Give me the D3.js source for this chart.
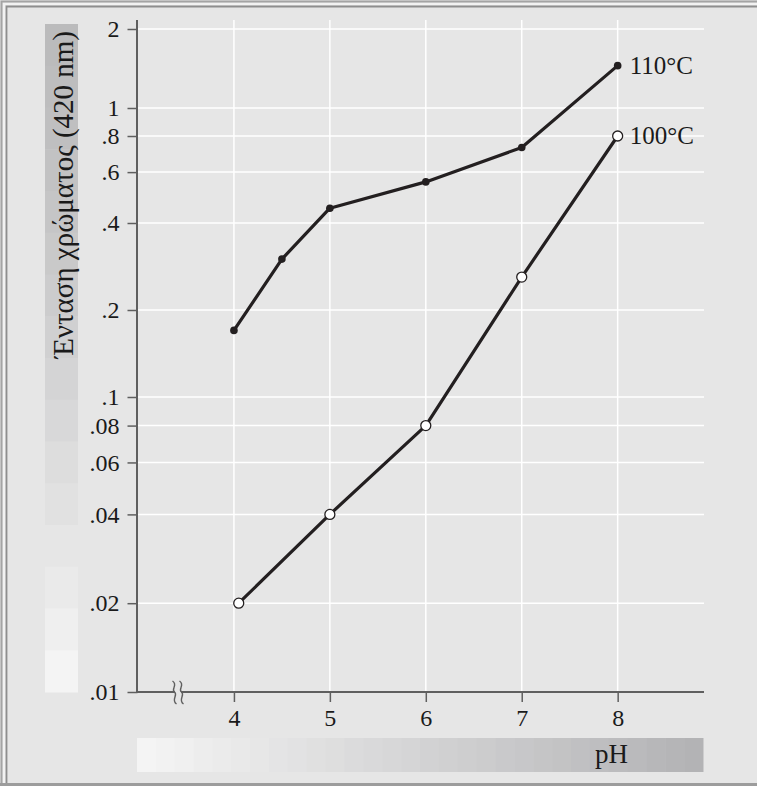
<!DOCTYPE html>
<html lang="el">
<head>
  <meta charset="UTF-8">
  <title>Ένταση χρώματος - pH</title>
  <script src="https://d3js.org/d3.v7.min.js"></script>
  <style>
    html, body { margin: 0; background: #e6e6e6; overflow: hidden; }
    svg { display: block; }
    text { font-family: "Liberation Serif", "Times New Roman", serif; fill: #1a1a1a; }
  </style>
</head>
<body>
  <div id="chart"></div>
  <script>
    // data
    const ph110 = [4, 4.5, 5, 6, 7, 8];
    const color110 = [0.17, 0.30, 0.45, 0.555, 0.73, 1.45];
    const ph100 = [4.05, 5, 6, 7, 8];
    const color100 = [0.02, 0.04, 0.08, 0.26, 0.80];
    const seriesNames = ["110°C", "100°C"];

    const yTicks = [2, 1, 0.8, 0.6, 0.4, 0.2, 0.1, 0.08, 0.06, 0.04, 0.02, 0.01];
    const yTickLabels = ["2", "1", ".8", ".6", ".4", ".2", ".1", ".08", ".06", ".04", ".02", ".01"];
    const xTicks = [4, 5, 6, 7, 8];

    const width = 757, height = 786;
    const plot = {left: 138, right: 704, top: 20, bottom: 692};
    const ink = "#231f20", axisCol = "#5f5f5f";

    const svg = d3.select("#chart").append("svg")
      .attr("width", width)
      .attr("height", height);

    svg.append("rect").attr("width", width).attr("height", height).attr("fill", "#e6e6e6");

    // frame (only top/left inner lines are visible in the original)
    svg.append("path").attr("d", `M1.5,${height} V1.5 H${width}`)
      .attr("fill", "none").attr("stroke", "#a4a4a4").attr("stroke-width", 2);
    svg.append("path").attr("d", `M4,${height} V4 H${width}`)
      .attr("fill", "none").attr("stroke", "#f2f2f2").attr("stroke-width", 2);
    svg.append("path").attr("d", `M6.5,${height} V6.5 H${width}`)
      .attr("fill", "none").attr("stroke", "#8e8e8e").attr("stroke-width", 1.8);
    svg.append("rect").attr("x", 0).attr("y", 783).attr("width", width).attr("height", 3).attr("fill", "#9c9c9c");

    // scales: log scale (hand drawn original is a bit uneven at the top)
    const y = d3.scaleLog()
      .domain([0.01, 0.1, 1, 2])
      .range([plot.bottom, 397, 108, 29]);
    const x = d3.scaleLinear()
      .domain([3, 8.9])
      .range([plot.left, plot.right]);

    // shaded title bands
    const yBand = {x: 45, w: 33, top: 24, bottom: 692, n: 16};
    const yShade = d3.interpolateRgb("#bbbbbc", "#f4f4f4");
    const bh = (yBand.bottom - yBand.top) / yBand.n;
    svg.append("g").selectAll("rect")
      .data(d3.range(yBand.n))
      .join("rect")
      .attr("x", yBand.x).attr("width", yBand.w)
      .attr("y", i => yBand.top + i * bh).attr("height", bh + 0.5)
      .attr("fill", i => yShade(Math.pow(i / (yBand.n - 1), 1.3)));

    const xBand = {left: 137, right: 703, y: 738, h: 34, n: 30};
    const xShade = d3.interpolateRgb("#f4f4f4", "#b3b3b5");
    const bw = (xBand.right - xBand.left) / xBand.n;
    svg.append("g").selectAll("rect")
      .data(d3.range(xBand.n))
      .join("rect")
      .attr("y", xBand.y).attr("height", xBand.h)
      .attr("x", i => xBand.left + i * bw).attr("width", bw + 0.5)
      .attr("fill", i => xShade(i / (xBand.n - 1)));

    // grid
    svg.append("g").selectAll("line")
      .data(yTicks)
      .join("line")
      .attr("x1", plot.left).attr("x2", plot.right)
      .attr("y1", d => y(d)).attr("y2", d => y(d))
      .attr("stroke", "#fff").attr("stroke-width", 1.5);
    svg.append("g").selectAll("line")
      .data(xTicks)
      .join("line")
      .attr("x1", d => x(d)).attr("x2", d => x(d))
      .attr("y1", plot.top).attr("y2", plot.bottom)
      .attr("stroke", "#fff").attr("stroke-width", 1.5);

    // axes
    const yAxis = d3.axisLeft(y)
      .tickValues(yTicks)
      .tickFormat((d, i) => yTickLabels[i])
      .tickSize(10).tickSizeOuter(0).tickPadding(8);
    const gy = svg.append("g").attr("transform", `translate(${plot.left - 0.5},0)`).call(yAxis);
    gy.select(".domain").remove();
    gy.selectAll("line").attr("stroke", axisCol).attr("stroke-width", 1.5);
    gy.selectAll("text").attr("font-size", 24).attr("fill", "#1a1a1a")
      .attr("font-family", "'Liberation Serif', serif");

    const xAxis = d3.axisBottom(x)
      .tickValues(xTicks)
      .tickFormat(d3.format("d"))
      .tickSize(10).tickSizeOuter(0).tickPadding(7);
    const gx = svg.append("g").attr("transform", `translate(0,${plot.bottom})`).call(xAxis);
    gx.select(".domain").remove();
    gx.selectAll("line").attr("stroke", axisCol).attr("stroke-width", 1.5);
    gx.selectAll("text").attr("font-size", 24).attr("fill", "#1a1a1a")
      .attr("font-family", "'Liberation Serif', serif");

    svg.append("line")
      .attr("x1", plot.left - 1).attr("x2", plot.left - 1)
      .attr("y1", plot.top).attr("y2", plot.bottom + 1)
      .attr("stroke", axisCol).attr("stroke-width", 2);
    svg.append("line")
      .attr("x1", plot.left - 2).attr("x2", plot.right)
      .attr("y1", plot.bottom).attr("y2", plot.bottom)
      .attr("stroke", axisCol).attr("stroke-width", 2);

    // axis break mark
    const brk = svg.append("g").attr("transform", `translate(178,${plot.bottom})`);
    brk.append("rect").attr("x", -3).attr("y", -3).attr("width", 6).attr("height", 6).attr("fill", "#e6e6e6");
    [-3.5, 3.5].forEach(dx => {
      brk.append("path")
        .attr("d", `M${dx - 2},-11 C${dx + 4},-7 ${dx - 4},-3 ${dx},0 S${dx - 4},8 ${dx + 2},12`)
        .attr("fill", "none").attr("stroke", axisCol).attr("stroke-width", 1.4);
    });

    // lines
    const line = d3.line().x(d => x(d[0])).y(d => y(d[1]));
    const s110 = d3.zip(ph110, color110);
    const s100 = d3.zip(ph100, color100);

    svg.append("path").datum(s110).attr("d", line)
      .attr("fill", "none").attr("stroke", ink).attr("stroke-width", 3.2).attr("stroke-linejoin", "round");
    svg.append("path").datum(s100).attr("d", line)
      .attr("fill", "none").attr("stroke", ink).attr("stroke-width", 3.2).attr("stroke-linejoin", "round");

    svg.append("g").selectAll("circle")
      .data(s110)
      .join("circle")
      .attr("cx", d => x(d[0])).attr("cy", d => y(d[1])).attr("r", 3.8)
      .attr("fill", ink);
    svg.append("g").selectAll("circle")
      .data(s100)
      .join("circle")
      .attr("cx", d => x(d[0])).attr("cy", d => y(d[1])).attr("r", 5)
      .attr("fill", "#fff").attr("stroke", ink).attr("stroke-width", 1.3);

    // series labels at the last point
    [s110, s100].forEach((s, i) => {
      const last = s[s.length - 1];
      svg.append("text")
        .attr("x", x(last[0]) + 12)
        .attr("y", y(last[1]))
        .attr("dy", "0.33em")
        .attr("font-size", 25)
        .text(seriesNames[i]);
    });

    // axis titles
    svg.append("text")
      .attr("transform", `translate(73,${yBand.top + 7}) rotate(-90)`)
      .attr("text-anchor", "end")
      .attr("font-size", 29)
      .text("Ένταση χρώματος (420 nm)");

    svg.append("text")
      .attr("x", 628).attr("y", 763)
      .attr("text-anchor", "end")
      .attr("font-size", 27)
      .text("pH");
  </script>
</body>
</html>
